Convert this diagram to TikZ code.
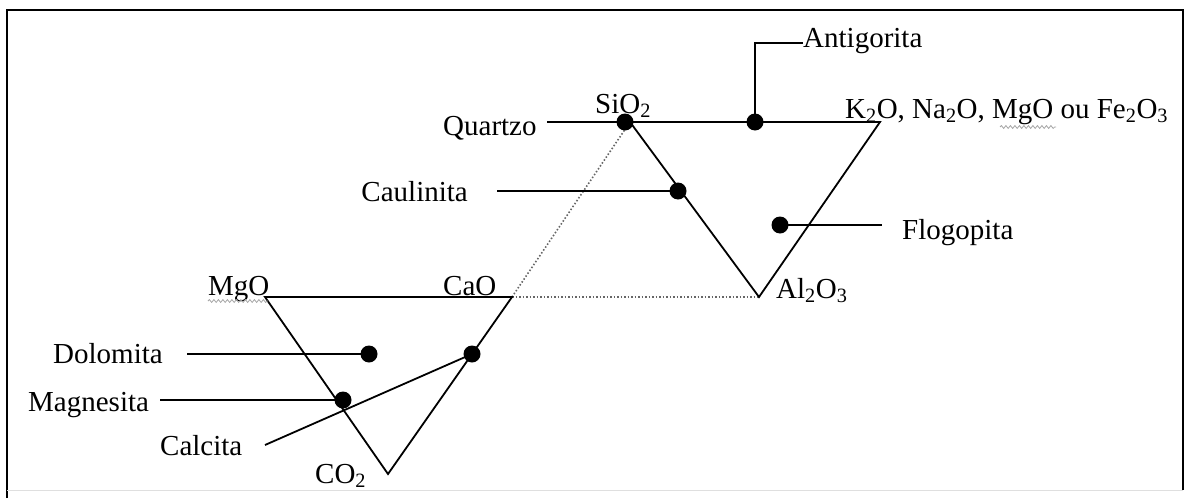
\documentclass[tikz,border=0pt]{standalone}
\usepackage{fontspec}
\setmainfont{Liberation Serif}
\usetikzlibrary{decorations.pathmorphing}
\begin{document}
\begin{tikzpicture}[x=1pt,y=-1pt,
  lbl/.style={font=\fontsize{29}{31}\selectfont, inner sep=0pt, anchor=base west},
  edge/.style={line width=1.8pt, black},
  lead/.style={line width=1.8pt, black},
  dotline/.style={line width=1.6pt, black!60, dash pattern=on 1.5pt off 2pt},
  pt/.style={circle, fill=black, inner sep=0pt, minimum size=17pt},
  squig/.style={gray!70, line width=0.8pt, decorate, decoration={snake, amplitude=1.4pt, segment length=4.5pt}}]
\useasboundingbox (0,0) rectangle (1186,498);
% frame
\draw[line width=2pt, black] (7,498) -- (7,10) -- (1183,10) -- (1183,490);
\draw[line width=0.8pt, gray!25] (7,490) -- (1183,490);

% vertices
\coordinate (SiV) at (630,122);
\coordinate (TR) at (880,122);
\coordinate (AlV) at (759,297);
\coordinate (CaV) at (512,297);
\coordinate (MgV) at (265,297);
\coordinate (COV) at (388,474);

% lead free ends
\coordinate (qS) at (547,122);
\coordinate (aTop) at (755,43);
\coordinate (aEnd) at (803,43);
\coordinate (cS) at (497,191);
\coordinate (fE) at (882,225);
\coordinate (dS) at (187,354);
\coordinate (mS) at (160,400);
\coordinate (kS) at (265,445);

% dotted tie lines
\draw[dotline] (CaV) -- (AlV);
\draw[dotline] (CaV) -- (SiV);

% triangles
\draw[edge] (qS) -- (TR) -- (AlV) -- (SiV);
\draw[edge] (MgV) -- (CaV) -- (COV) -- cycle;

% points
\node[pt] (qz) at (625,122) {};
\node[pt] (ant) at (755,122) {};
\node[pt] (cau) at (678,191) {};
\node[pt] (flo) at (780,225) {};
\node[pt] (dol) at (369,354) {};
\node[pt] (mag) at (343,400) {};
\node[pt] (cal) at (472,354) {};

% leads
\draw[lead] (ant.center) -- (aTop) -- (aEnd);
\draw[lead] (cS) -- (cau.center);
\draw[lead] (flo.center) -- (fE);
\draw[lead] (dS) -- (dol.center);
\draw[lead] (mS) -- (mag.center);
\draw[lead] (kS) -- (cal.center);

% labels
\node[lbl] (tAnt) at (803,47) {Antigorita};
\node[lbl] (tK) at (845,118) {K\textsubscript{2}O, Na\textsubscript{2}O, MgO ou Fe\textsubscript{2}O\textsubscript{3}};
\node[lbl] (tSi) at (595,113) {SiO\textsubscript{2}};
\node[lbl] (tQ) at (443,135) {Quartzo};
\node[lbl, anchor=base east] (tCau) at (468,201) {Caulinita};
\node[lbl] (tFlo) at (902,239) {Flogopita};
\node[lbl] (tAl) at (776,298) {Al\textsubscript{2}O\textsubscript{3}};
\node[lbl] (tMg) at (208,295) {MgO};
\node[lbl] (tCa) at (443,295) {CaO};
\node[lbl] (tDol) at (53,363) {Dolomita};
\node[lbl] (tMag) at (28,411) {Magnesita};
\node[lbl] (tCal) at (160,455) {Calcita};
\node[lbl] (tCO) at (315,483) {CO\textsubscript{2}};

% spell-check squiggles
\draw[squig] (208,301) -- (268,301);
\draw[squig] (1000,127) -- (1056,127);
\end{tikzpicture}
\end{document}
